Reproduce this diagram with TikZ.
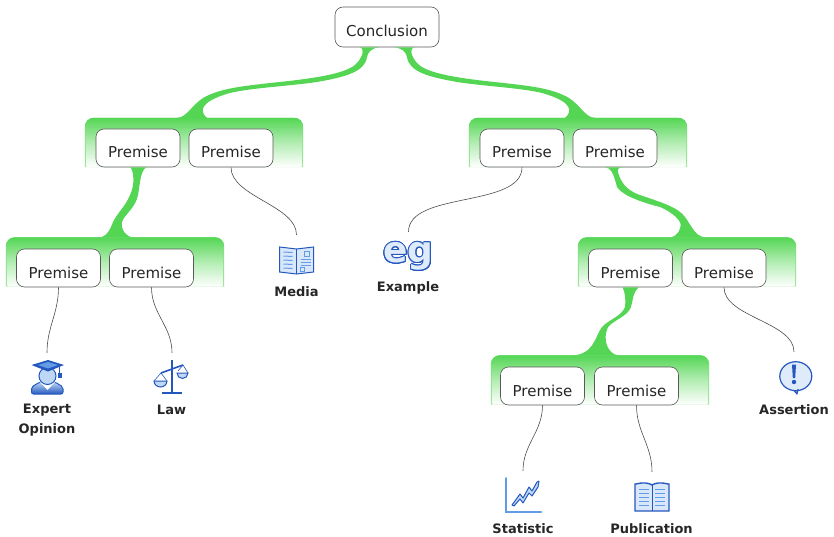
\documentclass[tikz,border=0pt]{standalone}
\usepackage{fontspec}
\setmainfont{DejaVu Sans}
\usepackage{contour}
\contourlength{0.9pt}
\usetikzlibrary{calc}
\definecolor{branchgreen}{RGB}{84,214,84}
\definecolor{palegreen}{RGB}{165,232,165}
\definecolor{iconblue}{RGB}{36,88,190}
\definecolor{iconlight}{RGB}{190,215,245}
\definecolor{iconmid}{RGB}{100,155,230}
\tikzset{
  mortaricon/.pic={
    \shade[top color=iconlight,bottom color=iconblue,draw=iconblue,line width=1pt,rounded corners=2pt]
      (-15.5,16) -- (-15.5,9) -- (-7,4) -- (8,4) -- (16,9) -- (16,16) -- cycle;
    \fill[white] (-7,4) -- (.5,12) -- (8,4) -- cycle;
    \draw[iconblue,line width=1pt,fill=iconlight] (.5,-2) circle (8.5);
    \fill[iconblue] (-15.5,-13) -- (1,-18) -- (17,-13) -- (1,-6.5) -- cycle;
    \fill[iconmid] (-9,-13) -- (1,-16) -- (11,-13) -- (1,-9.5) -- cycle;
    \draw[iconblue,line width=1pt] (12,-11) -- (12,-4);
    \fill[iconblue] (10.5,-5) rectangle (14.5,0);
  },
  scalesicon/.pic={
    \fill[iconblue] (-1.5,-18) rectangle (1,15);
    \fill[iconblue] (-10,13.5) rectangle (10,16);
    \draw[iconblue,line width=1.6pt] (-11,-5) -- (11,-13);
    \draw[iconblue,line width=.6pt] (-18,3) -- (-11,-5) -- (-5,3) (6,-7) -- (11,-13) -- (16,-5);
    \draw[iconblue,line width=1pt,fill=iconlight] (-18,3) -- (-5,3) arc (0:180:6.5 and 6) -- cycle;
    \draw[iconblue,line width=1pt,fill=iconlight] (5,-5) -- (16,-5) arc (0:180:5.5 and 5.5) -- cycle;
  },
  mediaicon/.pic={
    \draw[iconblue,line width=1pt,fill=iconlight!60!white] (-17,-13) -- (0,-11) -- (17,-13) -- (17,12) -- (0,14) -- (-17,12) -- cycle;
    \draw[iconblue,line width=1pt] (0,-11) -- (0,14);
    \foreach \yy in {-8,-4,0,4,8} \draw[iconmid,line width=1pt] (-13,\yy) -- (-4,\yy+.5);
    \foreach \yy in {-1,2,5} \draw[iconmid,line width=1pt] (4,\yy) -- (14,\yy);
    \draw[iconmid,line width=1pt] (8,-9) rectangle (13,-4) (4,7) rectangle (8,11);
  },
  statisticicon/.pic={
    \draw[iconblue,line width=2pt,line cap=round,iconmid] (-17,-18) -- (-17,16) -- (18,16);
    \draw[iconblue,line width=1pt,fill=iconlight,line join=round]
      (-11,9) -- (-3,-2) -- (0,2) -- (6,-9) -- (9,-5) -- (14,-14) -- (16,-15) -- (15,-9) -- (9,0) -- (6,-3) -- (0,7) -- (-3,3) -- (-9,10) -- cycle;
  },
  bookicon/.pic={
    \draw[iconblue,line width=1.4pt,fill=iconlight!60!white] (-17,-13) -- (-16,-13) .. controls (-8,-15) and (-3,-14) .. (0,-12) .. controls (3,-14) and (8,-15) .. (16,-13) -- (17,-13) -- (17,14) -- (0,14) -- (-17,14) -- cycle;
    \draw[iconblue,line width=1pt] (0,-12) -- (0,14);
    \foreach \yy in {-8,-4,0,4,8} {
      \draw[iconmid,line width=1pt] (-13,\yy) -- (-3,\yy);
      \draw[iconmid,line width=1pt] (3,\yy) -- (13,\yy);
    }
  },
  assertionicon/.pic={
    \draw[iconblue,line width=1.2pt,fill=iconlight!50!white,line join=round]
      (-1,13.5) arc (100:-260:16 and 14.5) -- (0,13.5) -- (3,17) -- (4,12);
    \fill[iconblue] (-2,-12.5) -- (2,-12.5) -- (1.2,1) -- (-1.2,1) -- cycle;
    \fill[iconblue] (0,5) circle (2.2);
  },
}
\tikzstyle{box}=[draw=black!65,fill=white,rounded corners=8pt,semithick,inner sep=0pt,text depth=0pt,text=black!85,font=\fontsize{15}{18}\selectfont]
\tikzstyle{premise}=[box,minimum width=84pt,minimum height=38pt,text height=20pt]
\tikzstyle{band}=[minimum width=218pt,minimum height=49pt,inner sep=0pt]
\tikzstyle{branch}=[fill=branchgreen]
\tikzstyle{thinlink}=[draw=black!70,line width=.6pt]
\tikzstyle{iconbox}=[minimum size=50pt,inner sep=0pt]
\tikzstyle{iconlabel}=[font=\fontsize{13}{20}\selectfont\bfseries,align=center,text=black!85,inner sep=0pt]
\begin{document}
\begin{tikzpicture}[x=1pt,y=-1pt]
\useasboundingbox (0,0) rectangle (834,537);
\node[band] (B1) at (194,142.5) {};
\node[band] (B2) at (578,142.5) {};
\node[band] (B3) at (115,262) {};
\node[band] (B4) at (687,262) {};
\node[band] (B5) at (600,380) {};
\foreach \b in {B1,B2,B3,B4,B5} {
  \shade[top color=branchgreen,bottom color=palegreen] (\b.south west) [rounded corners=9pt] -- (\b.north west) -- (\b.north east) [sharp corners] -- (\b.south east) -- cycle;
  \shade[top color=branchgreen,bottom color=white,middle color=branchgreen!45!white] ([xshift=1.5pt]\b.south west) [rounded corners=9pt] -- (\b.north west) -- (\b.north east) [sharp corners] -- ([xshift=-1.5pt]\b.south east) -- cycle;
}
\node[box,minimum width=104pt,minimum height=40pt,text height=19pt] (Conc) at (387,27) {Conclusion};
\node[premise] (P1) at (138,148) {Premise};
\node[premise] (P2) at (231,148) {Premise};
\node[premise] (P3) at (522,148) {Premise};
\node[premise] (P4) at (615,148) {Premise};
\node[premise] (P5) at (58.5,268) {Premise};
\node[premise] (P6) at (151.5,268) {Premise};
\node[premise] (P7) at (630.5,268) {Premise};
\node[premise] (P8) at (724,268) {Premise};
\node[premise] (P9) at (542.5,386) {Premise};
\node[premise] (P10) at (636.5,386) {Premise};
% green branches
\fill[branch] ([xshift=-27pt]Conc.south) .. controls (364,48) and (364,55) .. (357,63) .. controls (348,73) and (320,78) .. (270,83) .. controls (245,86) and (220,88) .. (203,98) .. controls (192,105) and (186,118) .. ([xshift=-17pt]B1.north) -- ([xshift=13pt]B1.north) .. controls (200,112) and (198,102) .. (230,93) .. controls (250,88) and (290,86) .. (317,82) .. controls (345,77) and (365,72) .. (367,57) .. controls (368,52) and (372,48) .. ([xshift=-8pt]Conc.south) -- cycle;
\fill[branch] ([xshift=27pt]Conc.south) .. controls (410,48) and (410,55) .. (417,63) .. controls (426,73) and (454,78) .. (504,83) .. controls (529,86) and (552,88) .. (569,98) .. controls (580,105) and (586,118) .. ([xshift=17pt]B2.north) -- ([xshift=-13pt]B2.north) .. controls (572,112) and (574,102) .. (542,93) .. controls (522,88) and (482,86) .. (457,82) .. controls (429,77) and (409,72) .. (407,57) .. controls (406,52) and (402,48) .. ([xshift=7pt]Conc.south) -- cycle;
\fill[branch] ([xshift=-8pt]P1.south) .. controls (134,170) and (135,185) .. (130,195) .. controls (125,207) and (118,212) .. (113,222) .. controls (110,230) and (106,238) .. ([xshift=-17pt]B3.north) -- ([xshift=17pt]B3.north) .. controls (125,236) and (118,226) .. (124,218) .. controls (130,210) and (136,205) .. (138,195) .. controls (140,185) and (140,172) .. ([xshift=8pt]P1.south) -- cycle;
\fill[branch] ([xshift=-10pt]P4.south) .. controls (611,168) and (613,172) .. (617,187) .. controls (622,195) and (640,202) .. (660,207) .. controls (672,212) and (684,222) .. (680,228) .. controls (678,236) and (672,238) .. ([xshift=-20pt]B4.north) -- ([xshift=18pt]B4.north) .. controls (695,236) and (693,228) .. (685,217) .. controls (678,207) and (660,202) .. (640,195) .. controls (625,190) and (620,180) .. (618,172) .. controls (617,168) and (620,167) .. ([xshift=10pt]P4.south) -- cycle;
\fill[branch] ([xshift=-8pt]P7.south) .. controls (625,292) and (626,300) .. (625,307) .. controls (622,316) and (608,320) .. (602,327) .. controls (595,336) and (594,356) .. ([xshift=-30pt]B5.north) -- ([xshift=18pt]B5.north) .. controls (608,354) and (602,340) .. (608,327) .. controls (614,320) and (628,316) .. (631,307) .. controls (633,300) and (633,292) .. ([xshift=8pt]P7.south) -- cycle;
% icons
\node[iconbox] (Expert) at (47,378) {};
\node[iconbox] (Law) at (172,378) {};
\node[iconbox] (Media) at (296.5,260) {};
\node[iconbox,font=\fontsize{36}{36}\selectfont\bfseries] (Eg) at (408.5,257) {\contour{iconblue}{\textcolor{iconlight!50!white}{eg}}};
\node[iconbox] (Stat) at (523,496) {};
\node[iconbox] (Pub) at (652,497) {};
\node[iconbox] (Assert) at (794,377) {};
\pic at (Expert) {mortaricon};
\pic at (Law) {scalesicon};
\pic at (Media) {mediaicon};
\pic at (Stat) {statisticicon};
\pic at (Pub) {bookicon};
\pic at (Assert) {assertionicon};
\node[iconlabel] (ExpertL) at (47,420) {Expert\\Opinion};
\node[iconlabel] (LawL) at (171.5,410) {Law};
\node[iconlabel] (MediaL) at (296.5,292) {Media};
\node[iconlabel] (EgL) at (408,288) {Example};
\node[iconlabel] (StatL) at (523,529) {Statistic};
\node[iconlabel] (PubL) at (651.5,529) {Publication};
\node[iconlabel] (AssertL) at (794,410) {Assertion};
% thin links
\path[thinlink] (P2.south) to[out=-90,in=90,looseness=.8] (Media.north);
\path[thinlink] (P3.south) to[out=-90,in=90,looseness=.8] (Eg.north);
\path[thinlink] (P5.south) to[out=-90,in=90] (Expert.north);
\path[thinlink] (P6.south) to[out=-90,in=90] (Law.north);
\path[thinlink] (P8.south) to[out=-90,in=90,looseness=.8] (Assert.north);
\path[thinlink] (P9.south) to[out=-90,in=90] (Stat.north);
\path[thinlink] (P10.south) to[out=-90,in=90] (Pub.north);
\end{tikzpicture}
\end{document}
